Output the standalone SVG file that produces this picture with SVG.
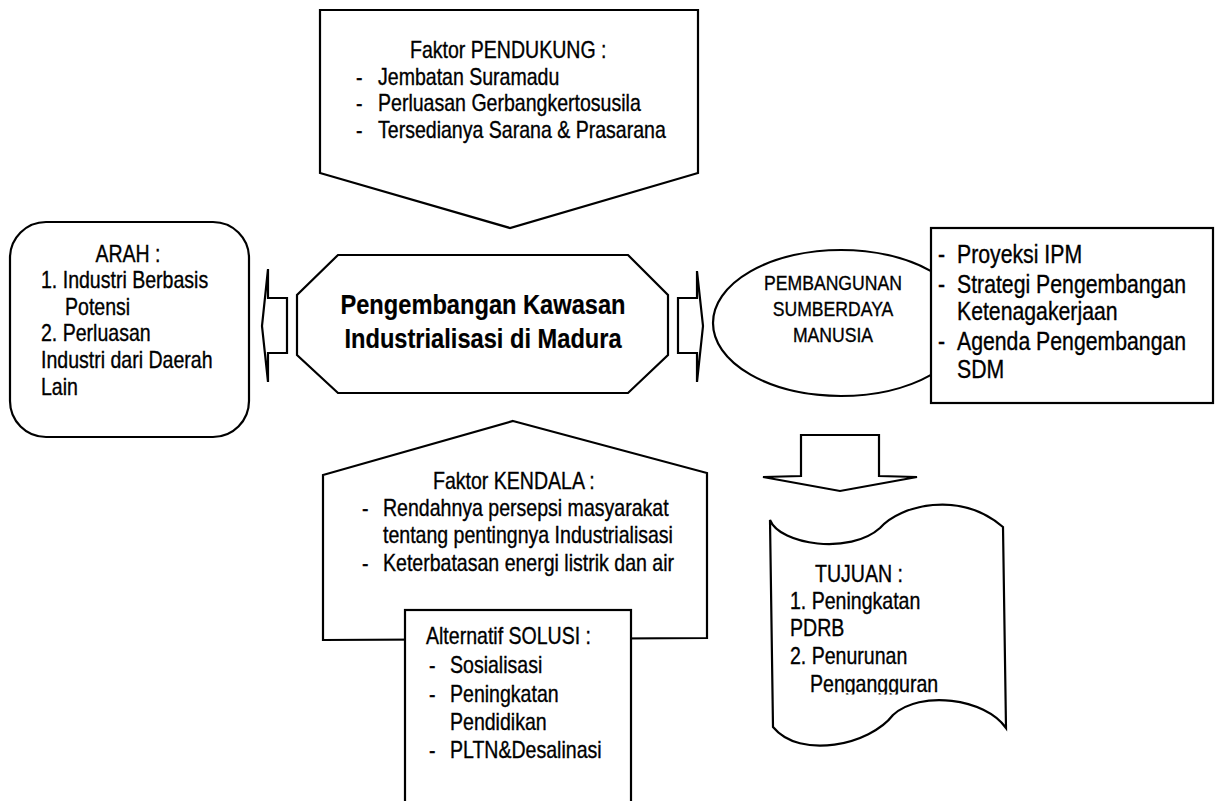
<svg xmlns="http://www.w3.org/2000/svg" width="1215" height="801" viewBox="0 0 1215 801">
<style>
.s{fill:#fff;stroke:#000;stroke-width:2.2;stroke-linejoin:miter}
.t,.r,.e,.b{font-family:'Liberation Sans Narrow','Liberation Sans',Arial,sans-serif;fill:#000;stroke:#000;stroke-width:0.35;transform-box:fill-box}
.t{font-size:23px;transform:scaleX(0.85);transform-origin:0 0}
.tm{transform-origin:50% 50%;text-anchor:middle}
.r{font-size:25px;transform:scaleX(0.85);transform-origin:0 0}
.e{font-size:20px;text-anchor:middle;transform:scaleX(0.88);transform-origin:50% 50%}
.b{font-size:28.5px;font-weight:bold;text-anchor:middle;transform:scaleX(0.83);transform-origin:50% 50%;stroke-width:0.2}
</style>
<defs>
<clipPath id="cl"><rect x="760" y="500" width="260" height="194.5"/></clipPath>
</defs>
<rect width="1215" height="801" fill="#fff"/>

<g id="pendukung">
<path class="s" d="M320,10 L698,10 L698,173 L510,228 L320,173 Z"/>
<text class="t" x="410" y="58">Faktor PENDUKUNG :</text>
<text class="t" x="356" y="85">-</text><text class="t" x="378" y="85">Jembatan Suramadu</text>
<text class="t" x="356" y="111">-</text><text class="t" x="378" y="111">Perluasan Gerbangkertosusila</text>
<text class="t" x="356" y="138">-</text><text class="t" x="378" y="138">Tersedianya Sarana &amp; Prasarana</text>
</g>

<g id="arah">
<rect class="s" x="10" y="222" width="239" height="215" rx="36" ry="36"/>
<text class="t tm" x="128" y="262">ARAH :</text>
<text class="t" x="41" y="288">1. Industri Berbasis</text>
<text class="t" x="65" y="315">Potensi</text>
<text class="t" x="41" y="341">2. Perluasan</text>
<text class="t" x="41" y="368">Industri dari Daerah</text>
<text class="t" x="41" y="395">Lain</text>
</g>

<g id="pusat">
<path class="s" d="M338,255 L628,255 L668,295 L668,355 L628,393 L338,393 L297,355 L297,295 Z"/>
<text class="b" x="483" y="314">Pengembangan Kawasan</text>
<text class="b" x="483" y="348">Industrialisasi di Madura</text>
</g>

<g id="sdm">
<ellipse class="s" cx="841" cy="323" rx="128" ry="73"/>
<text class="e" x="833" y="290">PEMBANGUNAN</text>
<text class="e" x="833" y="316">SUMBERDAYA</text>
<text class="e" x="833" y="342">MANUSIA</text>
</g>

<g id="program">
<rect class="s" x="931" y="228" width="282" height="175"/>
<text class="r" x="938" y="263">-</text><text class="r" x="957" y="263">Proyeksi IPM</text>
<text class="r" x="938" y="293">-</text><text class="r" x="957" y="293">Strategi Pengembangan</text>
<text class="r" x="957" y="320">Ketenagakerjaan</text>
<text class="r" x="938" y="350">-</text><text class="r" x="957" y="350">Agenda Pengembangan</text>
<text class="r" x="957" y="378">SDM</text>
</g>

<g id="kendala">
<path class="s" d="M513,421 L707,473 L707,638 L323,640 L323,475 Z"/>
<text class="t" x="433" y="489">Faktor KENDALA :</text>
<text class="t" x="362" y="516">-</text><text class="t" x="383" y="516">Rendahnya persepsi masyarakat</text>
<text class="t" x="383" y="543">tentang pentingnya Industrialisasi</text>
<text class="t" x="362" y="571">-</text><text class="t" x="383" y="571">Keterbatasan energi listrik dan air</text>
</g>

<g id="solusi">
<rect class="s" x="405" y="610" width="226" height="200"/>
<text class="t" x="426" y="644">Alternatif SOLUSI :</text>
<text class="t" x="429" y="673">-</text><text class="t" x="450" y="673">Sosialisasi</text>
<text class="t" x="429" y="702">-</text><text class="t" x="450" y="702">Peningkatan</text>
<text class="t" x="450" y="730">Pendidikan</text>
<text class="t" x="429" y="758">-</text><text class="t" x="450" y="758">PLTN&amp;Desalinasi</text>
</g>

<g id="tujuan">
<path class="s" d="M770,520 C780,545 850,555 880,528 C900,505 960,490 1003,527 L1006,728 C985,698 920,690 893,715 C870,745 800,760 773,727 Z"/>
<text class="t" x="815" y="582">TUJUAN :</text>
<text class="t" x="790" y="609">1. Peningkatan</text>
<text class="t" x="790" y="636">PDRB</text>
<text class="t" x="790" y="664">2. Penurunan</text>
<g clip-path="url(#cl)"><text class="t" x="810" y="692">Pengangguran</text></g>
</g>

<g id="connectors">
<path class="s" d="M287,298 L268,298 L268,269 L262,326 L268,382 L268,353 L287,353 Z"/>
<path class="s" d="M678,298 L697,298 L697,271 L703,326 L697,382 L697,353 L678,353 Z"/>
<path class="s" d="M801,435 L879,435 L879,476 L917,477 L840,491 L763,477 L801,476 Z"/>
</g>
</svg>
